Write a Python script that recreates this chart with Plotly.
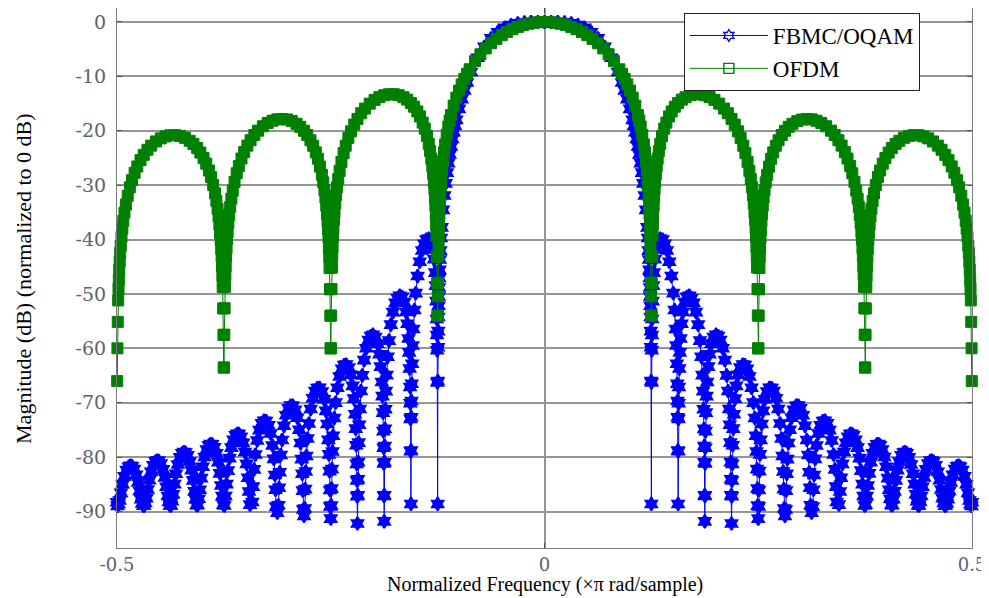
import plotly.graph_objects as go

# ---------------- data ----------------
# FBMC/OQAM spectrum, normalized frequency (x pi rad/sample) and magnitude (dB)
fbmc_x = [
    -0.5, -0.499375, -0.498125, -0.496875, -0.495313, -0.493438, -0.49125, -0.48875, -0.48625, -0.484375, -0.4825, -0.48, -0.4775, -0.475313, -0.473438, -0.471875, -0.470625, -0.469375,
    -0.468125, -0.466875, -0.465625, -0.464063, -0.462188, -0.46, -0.4575, -0.455, -0.453125, -0.45125, -0.44875, -0.44625, -0.444063, -0.442188, -0.440625, -0.439375, -0.438125,
    -0.436875, -0.435625, -0.434375, -0.432813, -0.430938, -0.42875, -0.42625, -0.42375, -0.421875, -0.42, -0.4175, -0.415, -0.412813, -0.410938, -0.409375, -0.408125, -0.406875,
    -0.405625, -0.404375, -0.403125, -0.401563, -0.399688, -0.3975, -0.395, -0.3925, -0.390625, -0.38875, -0.38625, -0.38375, -0.381563, -0.379688, -0.378125, -0.376875, -0.375625,
    -0.374375, -0.373125, -0.371875, -0.370313, -0.368438, -0.36625, -0.36375, -0.36125, -0.359375, -0.3575, -0.355, -0.3525, -0.350313, -0.348438, -0.346875, -0.345625, -0.344375,
    -0.341719, -0.340938, -0.339688, -0.338125, -0.335938, -0.333438, -0.330625, -0.328125, -0.325625, -0.322813, -0.320313, -0.318125, -0.316563, -0.315313, -0.314531, -0.313906,
    -0.312484, -0.311094, -0.310469, -0.309688, -0.308438, -0.306875, -0.304688, -0.302188, -0.299375, -0.296875, -0.294375, -0.291563, -0.289063, -0.286875, -0.285313, -0.284063, -0.283281, -0.282656, -0.282188,
    -0.281234, -0.280313, -0.279844, -0.279219, -0.278438, -0.277188, -0.275625, -0.273438, -0.270938, -0.268125, -0.265625, -0.263125, -0.260313, -0.257813, -0.255625, -0.254063, -0.252813, -0.252031, -0.251406, -0.250938, -0.250656,
    -0.249984, -0.249344, -0.249063, -0.248594, -0.247969, -0.247188, -0.245938, -0.244375, -0.242188, -0.239688, -0.236875, -0.234375, -0.231875, -0.229063, -0.226563, -0.224375, -0.222813, -0.221563, -0.220781, -0.220156, -0.219688, -0.219406, -0.219219,
    -0.218734, -0.218281, -0.218094, -0.217813, -0.217344, -0.216719, -0.215938, -0.214688, -0.213125, -0.210938, -0.208438, -0.205625, -0.203125, -0.200625, -0.197813, -0.195313, -0.193125, -0.191563, -0.190313, -0.189531, -0.188906, -0.188438, -0.188156, -0.187969, -0.187734,
    -0.187484, -0.187266, -0.187031, -0.186844, -0.186563, -0.186094, -0.185469, -0.184688, -0.183438, -0.181875, -0.179688, -0.177188, -0.174375, -0.171875, -0.169375, -0.166563, -0.164063, -0.161875, -0.160313, -0.159063, -0.158281, -0.157656, -0.157188, -0.156906, -0.156719, -0.156484,
    -0.156234, -0.156016, -0.155781, -0.155594, -0.155313, -0.154844, -0.154219, -0.153438, -0.152188, -0.150625, -0.148438, -0.145938, -0.143125, -0.140625, -0.138125, -0.135313, -0.132813, -0.130625, -0.129063, -0.127813, -0.127031, -0.126406, -0.125938, -0.125656, -0.125469, -0.125234,
    -0.1249844, -0.1247656, -0.1245313, -0.1243438, -0.124125, -0.1239063, -0.1236875, -0.1234375, -0.123125, -0.1228125, -0.1223438, -0.121875, -0.1210938, -0.1203125, -0.11875, -0.1171875, -0.115625, -0.1140625, -0.1125, -0.1109375,
    -0.109375, -0.1078125, -0.10625, -0.1046875, -0.103125, -0.1, -0.096875, -0.09375, -0.090625, -0.0859375, -0.078125, -0.0703125, -0.0625, -0.0546875, -0.046875, -0.0390625, -0.03125, -0.0234375, -0.015625, -0.0078125,
    0.0,
    0.0078125, 0.015625, 0.0234375, 0.03125, 0.0390625, 0.046875, 0.0546875, 0.0625, 0.0703125, 0.078125, 0.0859375, 0.090625, 0.09375, 0.096875, 0.1, 0.103125, 0.1046875, 0.10625, 0.1078125, 0.109375,
    0.1109375, 0.1125, 0.1140625, 0.115625, 0.1171875, 0.11875, 0.1203125, 0.1210938, 0.121875, 0.1223438, 0.1228125, 0.123125, 0.1234375, 0.1236875, 0.1239063, 0.124125, 0.1243438, 0.1245313, 0.1247656, 0.1249844,
    0.125234, 0.125469, 0.125656, 0.125938, 0.126406, 0.127031, 0.127813, 0.129063, 0.130625, 0.132813, 0.135313, 0.138125, 0.140625, 0.143125, 0.145938, 0.148438, 0.150625, 0.152188, 0.153438, 0.154219, 0.154844, 0.155313, 0.155594, 0.155781, 0.156016, 0.156234,
    0.156484, 0.156719, 0.156906, 0.157188, 0.157656, 0.158281, 0.159063, 0.160313, 0.161875, 0.164063, 0.166563, 0.169375, 0.171875, 0.174375, 0.177188, 0.179688, 0.181875, 0.183438, 0.184688, 0.185469, 0.186094, 0.186563, 0.186844, 0.187031, 0.187266, 0.187484,
    0.187734, 0.187969, 0.188156, 0.188438, 0.188906, 0.189531, 0.190313, 0.191563, 0.193125, 0.195313, 0.197813, 0.200625, 0.203125, 0.205625, 0.208438, 0.210938, 0.213125, 0.214688, 0.215938, 0.216719, 0.217344, 0.217813, 0.218094, 0.218281, 0.218734,
    0.219219, 0.219406, 0.219688, 0.220156, 0.220781, 0.221563, 0.222813, 0.224375, 0.226563, 0.229063, 0.231875, 0.234375, 0.236875, 0.239688, 0.242188, 0.244375, 0.245938, 0.247188, 0.247969, 0.248594, 0.249063, 0.249344, 0.249984,
    0.250656, 0.250938, 0.251406, 0.252031, 0.252813, 0.254063, 0.255625, 0.257813, 0.260313, 0.263125, 0.265625, 0.268125, 0.270938, 0.273438, 0.275625, 0.277188, 0.278438, 0.279219, 0.279844, 0.280313, 0.281234,
    0.282188, 0.282656, 0.283281, 0.284063, 0.285313, 0.286875, 0.289063, 0.291563, 0.294375, 0.296875, 0.299375, 0.302188, 0.304688, 0.306875, 0.308438, 0.309688, 0.310469, 0.311094, 0.312484,
    0.313906, 0.314531, 0.315313, 0.316563, 0.318125, 0.320313, 0.322813, 0.325625, 0.328125, 0.330625, 0.333438, 0.335938, 0.338125, 0.339688, 0.340938, 0.341719,
    0.344375, 0.345625, 0.346875, 0.348438, 0.350313, 0.3525, 0.355, 0.3575, 0.359375, 0.36125, 0.36375, 0.36625, 0.368438, 0.370313, 0.371875, 0.373125, 0.374375,
    0.375625, 0.376875, 0.378125, 0.379688, 0.381563, 0.38375, 0.38625, 0.38875, 0.390625, 0.3925, 0.395, 0.3975, 0.399688, 0.401563, 0.403125, 0.404375, 0.405625,
    0.406875, 0.408125, 0.409375, 0.410938, 0.412813, 0.415, 0.4175, 0.42, 0.421875, 0.42375, 0.42625, 0.42875, 0.430938, 0.432813, 0.434375, 0.435625, 0.436875,
    0.438125, 0.439375, 0.440625, 0.442188, 0.444063, 0.44625, 0.44875, 0.45125, 0.453125, 0.455, 0.4575, 0.46, 0.462188, 0.464063, 0.465625, 0.466875, 0.468125,
    0.469375, 0.470625, 0.471875, 0.473438, 0.475313, 0.4775, 0.48, 0.4825, 0.484375, 0.48625, 0.48875, 0.49125, 0.493438, 0.495313, 0.496875, 0.498125, 0.499375, 0.5,
]
fbmc_db = [
    -88.3, -88.95, -88.64, -87.98, -86.56, -84.99, -83.54, -82.39, -81.75, -81.57, -81.66, -82.18, -83.23, -84.64, -86.22, -87.73, -88.51, -88.9,
    -88.9, -88.44, -87.55, -85.95, -84.24, -82.69, -81.48, -80.81, -80.62, -80.68, -81.18, -82.25, -83.72, -85.44, -87.15, -88.22, -88.86,
    -88.86, -88.08, -86.82, -84.96, -83.05, -81.35, -80.04, -79.3, -79.08, -79.15, -79.68, -80.8, -82.38, -84.27, -86.26, -87.75, -88.81,
    -88.8, -87.65, -86.0, -83.86, -81.77, -79.97, -78.6, -77.84, -77.6, -77.64, -78.17, -79.3, -80.94, -82.98, -85.22, -87.16, -88.72,
    -88.9, -87.14, -84.96, -82.48, -80.18, -78.24, -76.8, -75.98, -75.71, -75.73, -76.24, -77.37, -79.06, -81.24, -83.79, -86.3, -88.73,
    -88.25, -85.42, -82.25, -79.52, -76.94, -75.03, -73.78, -73.3, -73.36, -74.14, -75.64, -77.86, -80.32, -83.28, -85.99, -89.09,
    -90.2, -88.84, -85.62, -82.78, -79.59, -76.85, -74.24, -72.29, -71.01, -70.5, -70.54, -71.29, -72.76, -74.96, -77.41, -80.36, -83.06, -86.16, -89.62,
    -90.8, -89.43, -85.87, -82.64, -79.78, -76.58, -73.81, -71.16, -69.18, -67.85, -67.3, -67.27, -67.95, -69.35, -71.49, -73.9, -76.82, -79.49, -82.57, -86.03, -89.08,
    -91.3, -88.91, -85.78, -82.2, -78.95, -76.06, -72.81, -69.98, -67.25, -65.17, -63.74, -63.09, -62.97, -63.53, -64.84, -66.89, -69.24, -72.11, -74.75, -77.81, -81.24, -84.29, -87.18,
    -92.2, -87.02, -84.06, -80.92, -77.33, -74.05, -71.14, -67.84, -64.96, -62.16, -59.99, -58.46, -57.73, -57.49, -57.93, -59.13, -61.08, -63.36, -66.17, -68.78, -71.81, -75.22, -78.26, -81.14, -87.11,
    -91.8, -87.0, -80.93, -77.96, -74.81, -71.18, -67.87, -64.92, -61.55, -58.57, -55.64, -53.33, -51.63, -50.75, -50.32, -50.53, -51.53, -53.32, -55.47, -58.18, -60.73, -63.71, -67.09, -70.1, -72.96, -78.92,
    -88.6, -78.77, -72.67, -69.69, -66.51, -62.84, -59.48, -56.45, -52.96, -49.85, -46.71, -44.07, -42.0, -40.79, -40.01, -39.83, -40.48, -41.8, -43.63, -46.08, -48.46, -51.31, -54.59, -57.54, -60.36, -66.27,
    -88.6, -66.0, -59.8, -56.84, -54.23, -52.16, -50.47, -48.8, -47.07, -45.58, -43.66, -42.03, -39.71, -37.76, -34.54, -31.91, -29.67, -27.7, -25.94, -24.34,
    -22.88, -21.52, -20.27, -19.09, -17.99, -15.98, -14.18, -12.57, -11.12, -9.2, -6.58, -4.55, -3.01, -1.88, -1.08, -0.56, -0.25, -0.09, -0.02, 0.0,
    0.0,
    0.0, -0.02, -0.09, -0.25, -0.56, -1.08, -1.88, -3.01, -4.55, -6.58, -9.2, -11.12, -12.57, -14.18, -15.98, -17.99, -19.09, -20.27, -21.52, -22.88,
    -24.34, -25.94, -27.7, -29.67, -31.91, -34.54, -37.76, -39.71, -42.03, -43.66, -45.58, -47.07, -48.8, -50.47, -52.16, -54.23, -56.84, -59.8, -66.0, -88.6,
    -66.27, -60.36, -57.54, -54.59, -51.31, -48.46, -46.08, -43.63, -41.8, -40.48, -39.83, -40.01, -40.79, -42.0, -44.07, -46.71, -49.85, -52.96, -56.45, -59.48, -62.84, -66.51, -69.69, -72.67, -78.77, -88.6,
    -78.92, -72.96, -70.1, -67.09, -63.71, -60.73, -58.18, -55.47, -53.32, -51.53, -50.53, -50.32, -50.75, -51.63, -53.33, -55.64, -58.57, -61.55, -64.92, -67.87, -71.18, -74.81, -77.96, -80.93, -87.0, -91.8,
    -87.11, -81.14, -78.26, -75.22, -71.81, -68.78, -66.17, -63.36, -61.08, -59.13, -57.93, -57.49, -57.73, -58.46, -59.99, -62.16, -64.96, -67.84, -71.14, -74.05, -77.33, -80.92, -84.06, -87.02, -92.2,
    -87.18, -84.29, -81.24, -77.81, -74.75, -72.11, -69.24, -66.89, -64.84, -63.53, -62.97, -63.09, -63.74, -65.17, -67.25, -69.98, -72.81, -76.06, -78.95, -82.2, -85.78, -88.91, -91.3,
    -89.08, -86.03, -82.57, -79.49, -76.82, -73.9, -71.49, -69.35, -67.95, -67.27, -67.3, -67.85, -69.18, -71.16, -73.81, -76.58, -79.78, -82.64, -85.87, -89.43, -90.8,
    -89.62, -86.16, -83.06, -80.36, -77.41, -74.96, -72.76, -71.29, -70.54, -70.5, -71.01, -72.29, -74.24, -76.85, -79.59, -82.78, -85.62, -88.84, -90.2,
    -89.09, -85.99, -83.28, -80.32, -77.86, -75.64, -74.14, -73.36, -73.3, -73.78, -75.03, -76.94, -79.52, -82.25, -85.42, -88.25,
    -88.73, -86.3, -83.79, -81.24, -79.06, -77.37, -76.24, -75.73, -75.71, -75.98, -76.8, -78.24, -80.18, -82.48, -84.96, -87.14, -88.9,
    -88.72, -87.16, -85.22, -82.98, -80.94, -79.3, -78.17, -77.64, -77.6, -77.84, -78.6, -79.97, -81.77, -83.86, -86.0, -87.65, -88.8,
    -88.81, -87.75, -86.26, -84.27, -82.38, -80.8, -79.68, -79.15, -79.08, -79.3, -80.04, -81.35, -83.05, -84.96, -86.82, -88.08, -88.86,
    -88.86, -88.22, -87.15, -85.44, -83.72, -82.25, -81.18, -80.68, -80.62, -80.81, -81.48, -82.69, -84.24, -85.95, -87.55, -88.44, -88.9,
    -88.9, -88.51, -87.73, -86.22, -84.64, -83.23, -82.18, -81.66, -81.57, -81.75, -82.39, -83.54, -84.99, -86.56, -87.98, -88.64, -88.95, -88.3,
]

# OFDM spectrum
ofdm_x = [
    -0.49975, -0.4995, -0.499125, -0.498625, -0.49825, -0.497875, -0.497375, -0.496875, -0.49625, -0.495625, -0.49475, -0.49375, -0.492625, -0.49125, -0.489625, -0.4875, -0.485, -0.4825, -0.479375, -0.47625,
    -0.4725, -0.46875, -0.464375, -0.46, -0.454375, -0.44875, -0.443125, -0.4375, -0.431875, -0.42625, -0.420625, -0.415, -0.410625, -0.40625, -0.4025, -0.39875, -0.395625, -0.3925, -0.39, -0.3875,
    -0.385375, -0.38375, -0.382375, -0.38125, -0.38025, -0.379375, -0.37875, -0.378125, -0.377625, -0.377125, -0.37675, -0.376375, -0.375875, -0.3755, -0.37525,
    -0.37475, -0.3745, -0.374125, -0.373625, -0.37325, -0.372875, -0.372375, -0.371875, -0.37125, -0.370625, -0.36975, -0.36875, -0.367625, -0.36625, -0.364625, -0.3625, -0.36, -0.3575, -0.354375, -0.35125,
    -0.3475, -0.34375, -0.339375, -0.335, -0.329375, -0.32375, -0.318125, -0.3125, -0.306875, -0.30125, -0.295625, -0.29, -0.285625, -0.28125, -0.2775, -0.27375, -0.270625, -0.2675, -0.265, -0.2625,
    -0.260375, -0.25875, -0.257375, -0.25625, -0.25525, -0.254375, -0.25375, -0.253125, -0.252625, -0.252125, -0.25175, -0.251375, -0.250875, -0.2505, -0.25025,
    -0.24975, -0.2495, -0.249125, -0.248625, -0.24825, -0.247875, -0.247375, -0.246875, -0.24625, -0.245625, -0.24475, -0.24375, -0.242625, -0.24125, -0.239625, -0.2375, -0.235, -0.2325, -0.229375, -0.22625,
    -0.2225, -0.21875, -0.214375, -0.21, -0.204375, -0.19875, -0.193125, -0.1875, -0.181875, -0.17625, -0.170625, -0.165, -0.160625, -0.15625, -0.1525, -0.14875, -0.145625, -0.1425, -0.14, -0.1375,
    -0.135375, -0.13375, -0.132375, -0.13125, -0.13025, -0.129375, -0.12875, -0.128125, -0.127625, -0.127125, -0.12675, -0.126375, -0.125875, -0.1255, -0.12525,
    -0.12475, -0.124625, -0.1245, -0.124125, -0.123875, -0.123625, -0.12325, -0.122875, -0.122375, -0.121875, -0.12125, -0.120625, -0.11975, -0.11875, -0.1175, -0.11625, -0.114375, -0.1125, -0.110938, -0.109375,
    -0.10625, -0.103125, -0.1, -0.096875, -0.09375, -0.090625, -0.0875, -0.08125, -0.075, -0.06875, -0.0625, -0.05625, -0.05, -0.04375, -0.0375, -0.03125, -0.025, -0.01875, -0.0125, -0.00625,
    0.0,
    0.00625, 0.0125, 0.01875, 0.025, 0.03125, 0.0375, 0.04375, 0.05, 0.05625, 0.0625, 0.06875, 0.075, 0.08125, 0.0875, 0.090625, 0.09375, 0.096875, 0.1, 0.103125, 0.10625,
    0.109375, 0.110938, 0.1125, 0.114375, 0.11625, 0.1175, 0.11875, 0.11975, 0.120625, 0.12125, 0.121875, 0.122375, 0.122875, 0.12325, 0.123625, 0.123875, 0.124125, 0.1245, 0.124625, 0.12475,
    0.12525, 0.1255, 0.125875, 0.126375, 0.12675, 0.127125, 0.127625, 0.128125, 0.12875, 0.129375, 0.13025, 0.13125, 0.132375, 0.13375, 0.135375, 0.1375, 0.14, 0.1425, 0.145625, 0.14875,
    0.1525, 0.15625, 0.160625, 0.165, 0.170625, 0.17625, 0.181875, 0.1875, 0.193125, 0.19875, 0.204375, 0.21, 0.214375, 0.21875, 0.2225, 0.22625, 0.229375, 0.2325, 0.235, 0.2375,
    0.239625, 0.24125, 0.242625, 0.24375, 0.24475, 0.245625, 0.24625, 0.246875, 0.247375, 0.247875, 0.24825, 0.248625, 0.249125, 0.2495, 0.24975,
    0.25025, 0.2505, 0.250875, 0.251375, 0.25175, 0.252125, 0.252625, 0.253125, 0.25375, 0.254375, 0.25525, 0.25625, 0.257375, 0.25875, 0.260375, 0.2625, 0.265, 0.2675, 0.270625, 0.27375,
    0.2775, 0.28125, 0.285625, 0.29, 0.295625, 0.30125, 0.306875, 0.3125, 0.318125, 0.32375, 0.329375, 0.335, 0.339375, 0.34375, 0.3475, 0.35125, 0.354375, 0.3575, 0.36, 0.3625,
    0.364625, 0.36625, 0.367625, 0.36875, 0.36975, 0.370625, 0.37125, 0.371875, 0.372375, 0.372875, 0.37325, 0.373625, 0.374125, 0.3745, 0.37475,
    0.37525, 0.3755, 0.375875, 0.376375, 0.37675, 0.377125, 0.377625, 0.378125, 0.37875, 0.379375, 0.38025, 0.38125, 0.382375, 0.38375, 0.385375, 0.3875, 0.39, 0.3925, 0.395625, 0.39875,
    0.4025, 0.40625, 0.410625, 0.415, 0.420625, 0.42625, 0.431875, 0.4375, 0.443125, 0.44875, 0.454375, 0.46, 0.464375, 0.46875, 0.4725, 0.47625, 0.479375, 0.4825, 0.485, 0.4875,
    0.489625, 0.49125, 0.492625, 0.49375, 0.49475, 0.495625, 0.49625, 0.496875, 0.497375, 0.497875, 0.49825, 0.498625, 0.499125, 0.4995, 0.49975,
]
ofdm_db = [
    -66.02, -59.99, -55.13, -51.19, -49.09, -47.4, -45.56, -44.04, -42.45, -41.1, -39.51, -37.99, -36.55, -35.05, -33.57, -31.96, -30.4, -29.09, -27.72, -26.56,
    -25.4, -24.43, -23.49, -22.73, -21.96, -21.4, -21.03, -20.82, -20.8, -20.95, -21.29, -21.84, -22.42, -23.19, -24.01, -25.02, -26.05, -27.3, -28.51, -29.97,
    -31.49, -32.91, -34.34, -35.74, -37.23, -38.78, -40.1, -41.67, -43.17, -44.98, -46.67, -48.75, -52.67, -57.52, -63.53,
    -63.52, -57.49, -52.63, -48.68, -46.58, -44.89, -43.04, -41.52, -39.93, -38.57, -36.98, -35.45, -34.0, -32.5, -31.01, -29.39, -27.81, -26.49, -25.1, -23.92,
    -22.73, -21.74, -20.77, -19.98, -19.17, -18.56, -18.15, -17.9, -17.83, -17.93, -18.23, -18.72, -19.27, -20.0, -20.78, -21.75, -22.75, -23.97, -25.15, -26.59,
    -28.09, -29.48, -30.91, -32.29, -33.77, -35.31, -36.62, -38.18, -39.68, -41.49, -43.17, -45.24, -49.15, -54.0, -60.01,
    -59.99, -53.97, -49.09, -45.15, -43.04, -41.34, -39.49, -37.96, -36.36, -35.0, -33.4, -31.85, -30.39, -28.87, -27.37, -25.72, -24.11, -22.75, -21.32, -20.1,
    -18.86, -17.81, -16.78, -15.92, -15.02, -14.32, -13.81, -13.47, -13.29, -13.28, -13.46, -13.83, -14.27, -14.89, -15.58, -16.45, -17.37, -18.5, -19.61, -20.97,
    -22.41, -23.75, -25.13, -26.48, -27.92, -29.43, -30.73, -32.27, -33.75, -35.54, -37.21, -39.27, -43.16, -48.0, -54.0,
    -53.96, -50.43, -47.92, -43.04, -40.84, -39.08, -36.96, -35.24, -33.38, -31.83, -30.21, -28.83, -27.19, -25.61, -23.95, -22.52, -20.74, -19.23, -18.12, -17.13,
    -15.39, -13.91, -12.62, -11.48, -10.45, -9.53, -8.69, -7.2, -5.94, -4.86, -3.92, -3.11, -2.42, -1.83, -1.33, -0.91, -0.58, -0.32, -0.14, -0.04,
    0.0,
    -0.04, -0.14, -0.32, -0.58, -0.91, -1.33, -1.83, -2.42, -3.11, -3.92, -4.86, -5.94, -7.2, -8.69, -9.53, -10.45, -11.48, -12.62, -13.91, -15.39,
    -17.13, -18.12, -19.23, -20.74, -22.52, -23.95, -25.61, -27.19, -28.83, -30.21, -31.83, -33.38, -35.24, -36.96, -39.08, -40.84, -43.04, -47.92, -50.43, -53.96,
    -54.0, -48.0, -43.16, -39.27, -37.21, -35.54, -33.75, -32.27, -30.73, -29.43, -27.92, -26.48, -25.13, -23.75, -22.41, -20.97, -19.61, -18.5, -17.37, -16.45,
    -15.58, -14.89, -14.27, -13.83, -13.46, -13.28, -13.29, -13.47, -13.81, -14.32, -15.02, -15.92, -16.78, -17.81, -18.86, -20.1, -21.32, -22.75, -24.11, -25.72,
    -27.37, -28.87, -30.39, -31.85, -33.4, -35.0, -36.36, -37.96, -39.49, -41.34, -43.04, -45.15, -49.09, -53.97, -59.99,
    -60.01, -54.0, -49.15, -45.24, -43.17, -41.49, -39.68, -38.18, -36.62, -35.31, -33.77, -32.29, -30.91, -29.48, -28.09, -26.59, -25.15, -23.97, -22.75, -21.75,
    -20.78, -20.0, -19.27, -18.72, -18.23, -17.93, -17.83, -17.9, -18.15, -18.56, -19.17, -19.98, -20.77, -21.74, -22.73, -23.92, -25.1, -26.49, -27.81, -29.39,
    -31.01, -32.5, -34.0, -35.45, -36.98, -38.57, -39.93, -41.52, -43.04, -44.89, -46.58, -48.68, -52.63, -57.49, -63.52,
    -63.53, -57.52, -52.67, -48.75, -46.67, -44.98, -43.17, -41.67, -40.1, -38.78, -37.23, -35.74, -34.34, -32.91, -31.49, -29.97, -28.51, -27.3, -26.05, -25.02,
    -24.01, -23.19, -22.42, -21.84, -21.29, -20.95, -20.8, -20.82, -21.03, -21.4, -21.96, -22.73, -23.49, -24.43, -25.4, -26.56, -27.72, -29.09, -30.4, -31.96,
    -33.57, -35.05, -36.55, -37.99, -39.51, -41.1, -42.45, -44.04, -45.56, -47.4, -49.09, -51.19, -55.13, -59.99, -66.02,
]

x_tick_vals = [-0.5, 0, 0.5]
x_tick_text = ["-0.5", "0", "0.5"]
y_tick_vals = [0, -10, -20, -30, -40, -50, -60, -70, -80, -90]
y_tick_text = ["0", "-10", "-20", "-30", "-40", "-50", "-60", "-70", "-80", "-90"]
series_names = ["FBMC/OQAM", "OFDM"]

assert len(fbmc_x) == len(fbmc_db), (len(fbmc_x), len(fbmc_db))
assert len(ofdm_x) == len(ofdm_db), (len(ofdm_x), len(ofdm_db))

BLUE = "#0000ff"
GREEN = "#008000"
SERIF = "Liberation Serif, Times New Roman, serif"
TICK_FAMILY = "DejaVu Serif, serif"
TICK_COLOR = "#5a6273"

fig = go.Figure()
# dense sampled curves (filled markers so the dense samples form a solid band)
fig.add_trace(go.Scatter(
    x=fbmc_x, y=fbmc_db, mode="lines+markers", name=series_names[0], showlegend=False,
    line=dict(color=BLUE, width=1),
    marker=dict(symbol="hexagram", size=10, color=BLUE, line=dict(width=2, color=BLUE)),
    cliponaxis=False,
))
fig.add_trace(go.Scatter(
    x=ofdm_x, y=ofdm_db, mode="lines+markers", name=series_names[1], showlegend=False,
    line=dict(color=GREEN, width=1),
    marker=dict(symbol="square", size=11, color=GREEN, line=dict(width=1, color=GREEN)),
    cliponaxis=False,
))
# legend entries (open markers, as in the reference legend)
fig.add_trace(go.Scatter(
    x=[None], y=[None], mode="lines+markers", name=series_names[0],
    line=dict(color=BLUE, width=1),
    marker=dict(symbol="hexagram-open", size=9, color=BLUE, line=dict(width=1.3, color=BLUE)),
))
fig.add_trace(go.Scatter(
    x=[None], y=[None], mode="lines+markers", name=series_names[1],
    line=dict(color=GREEN, width=1),
    marker=dict(symbol="square-open", size=10, color=GREEN, line=dict(width=1.4, color=GREEN)),
))

axis_common = dict(
    showline=True, linecolor="#7a7a7a", linewidth=1, mirror="ticks",
    ticks="inside", ticklen=5, tickcolor="#505050", tickwidth=1,
    showgrid=True, gridcolor="#959595", gridwidth=1.5, zeroline=False,
)

fig.update_xaxes(range=[-0.5, 0.5], tickvals=x_tick_vals, ticktext=x_tick_text,
                 ticklabelstandoff=0, tickfont=dict(family=TICK_FAMILY, size=18, color=TICK_COLOR),
                 **axis_common)
fig.update_yaxes(range=[-96.7, 2.57], tickvals=y_tick_vals, ticktext=y_tick_text,
                 ticklabelstandoff=6, tickfont=dict(family=TICK_FAMILY, size=19, color=TICK_COLOR),
                 **axis_common)

# the page adds an 8 px body margin, so the figure is placed at (8, 8)
fig.update_layout(
    width=981, height=590,
    margin=dict(l=109, r=17, t=0, b=50),
    paper_bgcolor="white", plot_bgcolor="white",
    showlegend=True,
    legend=dict(
        x=0.663, y=0.9907, xanchor="left", yanchor="top",
        bgcolor="white", bordercolor="#202020", borderwidth=1,
        font=dict(family=SERIF, size=23, color="black"),
        itemwidth=78, tracegroupgap=0,
    ),
    annotations=[
        dict(text="Normalized Frequency (\u00d7\u03c0 rad/sample)", xref="paper", yref="paper",
             x=0.5, y=-0.0685, xanchor="center", yanchor="middle", showarrow=False,
             font=dict(family=SERIF, size=20, color="black")),
        dict(text="Magnitude (dB) (normalized to 0 dB)", xref="paper", yref="paper",
             x=-0.110, y=0.5, xanchor="center", yanchor="middle", textangle=-90, showarrow=False,
             font=dict(family=SERIF, size=22, color="black")),
    ],
)

fig.write_html("out.html")
